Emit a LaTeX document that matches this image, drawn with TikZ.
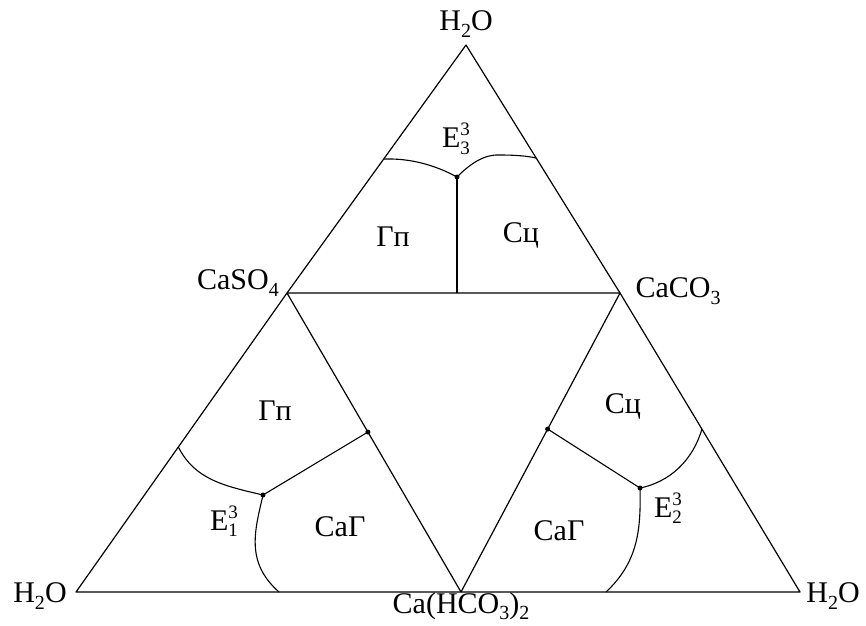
\documentclass[tikz,border=0pt]{standalone}
\usepackage{fontspec}
\setmainfont{Liberation Serif}
\usetikzlibrary{calc}
\newcommand\lbsub[1]{\raisebox{-0.22em}{\fontsize{20}{20}\selectfont #1}}
\newcommand\Eut[1]{E\makebox[0pt][l]{\raisebox{0.40em}{\fontsize{19}{19}\selectfont 3}}\raisebox{-0.22em}{\fontsize{19}{19}\selectfont #1}}
\tikzset{
  edge/.style={line width=1.2pt, line join=round},
  curve/.style={line width=1.1pt},
  lbl/.style={inner sep=0pt, font=\fontsize{30}{32}\selectfont},
  dot/.style={circle, fill=black, inner sep=0pt, minimum size=5pt}
}
\begin{document}
\begin{tikzpicture}[x=1pt,y=-1pt]
\path[use as bounding box] (0,0) rectangle (866,625);
% vertices
\coordinate (top) at (466,45);
\coordinate (bl) at (76,592);
\coordinate (br) at (800,592);
\coordinate (so) at (287,293);
\coordinate (co) at (620,293);
\coordinate (ca) at (461,592);
% big triangle and inner edges
\draw[edge] (bl) -- (so) -- (top) -- (co) -- (br) -- (ca) -- cycle;
\draw[edge] (so) -- (co) -- (ca) -- (so);
% top region
\coordinate (p3) at (457,177);
\coordinate (p3b) at (457,293);
\coordinate (tl) at ($(so)!0.54!(top)$);
\coordinate (tr) at ($(co)!0.544!(top)$);
\draw[curve] (tl) .. controls (410,158) and (435,165) .. (p3);
\draw[curve] (p3) .. controls (470,164) and (484,154) .. (500,155) .. controls (515,155) and (528,156) .. (tr);
\draw[curve] (p3) -- (p3b);
\node[dot] (d3) at (p3) {};
% left region
\coordinate (q1) at (263,495);
\coordinate (e1) at ($(so)!0.465!(ca)$);
\coordinate (l1) at ($(bl)!0.485!(so)$);
\coordinate (b1) at (279,592);
\draw[curve] (e1) -- (q1);
\draw[curve] (l1) .. controls (195,480) and (225,486) .. (q1);
\draw[curve] (q1) .. controls (255,530) and (245,562) .. (b1);
\node[dot] (dq1) at (q1) {};
\node[dot] (de1) at (e1) {};
% right region
\coordinate (q2) at (640,488);
\coordinate (e2) at ($(co)!0.455!(ca)$);
\coordinate (r2) at ($(br)!0.545!(co)$);
\coordinate (b2) at (606,592);
\draw[curve] (e2) -- (q2);
\draw[curve] (q2) .. controls (670,482) and (693,460) .. (r2);
\draw[curve] (q2) .. controls (641,530) and (638,562) .. (b2);
\node[dot] (dq2) at (q2) {};
\node[dot] (de2) at (e2) {};
% labels
\node[lbl] (ltop) at (466,24) {H\lbsub{2}O};
\node[lbl] (lbl) at (40,596) {H\lbsub{2}O};
\node[lbl] (lbr) at (833,596) {H\lbsub{2}O};
\node[lbl] (lso) at (238,283) {CaSO\lbsub{4}};
\node[lbl] (lco) at (678,291) {CaCO\lbsub{3}};
\node[lbl] (lca) at (461,606) {Ca(HCO\lbsub{3})\lbsub{2}};
\node[lbl] (e3t) at (456,139) {\Eut{3}};
\node[lbl] (e1t) at (224,521) {\Eut{1}};
\node[lbl] (e2t) at (668,508) {\Eut{2}};
\node[lbl] (gp1) at (393,237) {Гп};
\node[lbl] (sc1) at (521,235) {Сц};
\node[lbl] (gp2) at (275,411) {Гп};
\node[lbl] (sc2) at (623,406) {Сц};
\node[lbl] (cg1) at (340,527) {CaГ};
\node[lbl] (cg2) at (559,531) {CaГ};
\end{tikzpicture}
\end{document}
